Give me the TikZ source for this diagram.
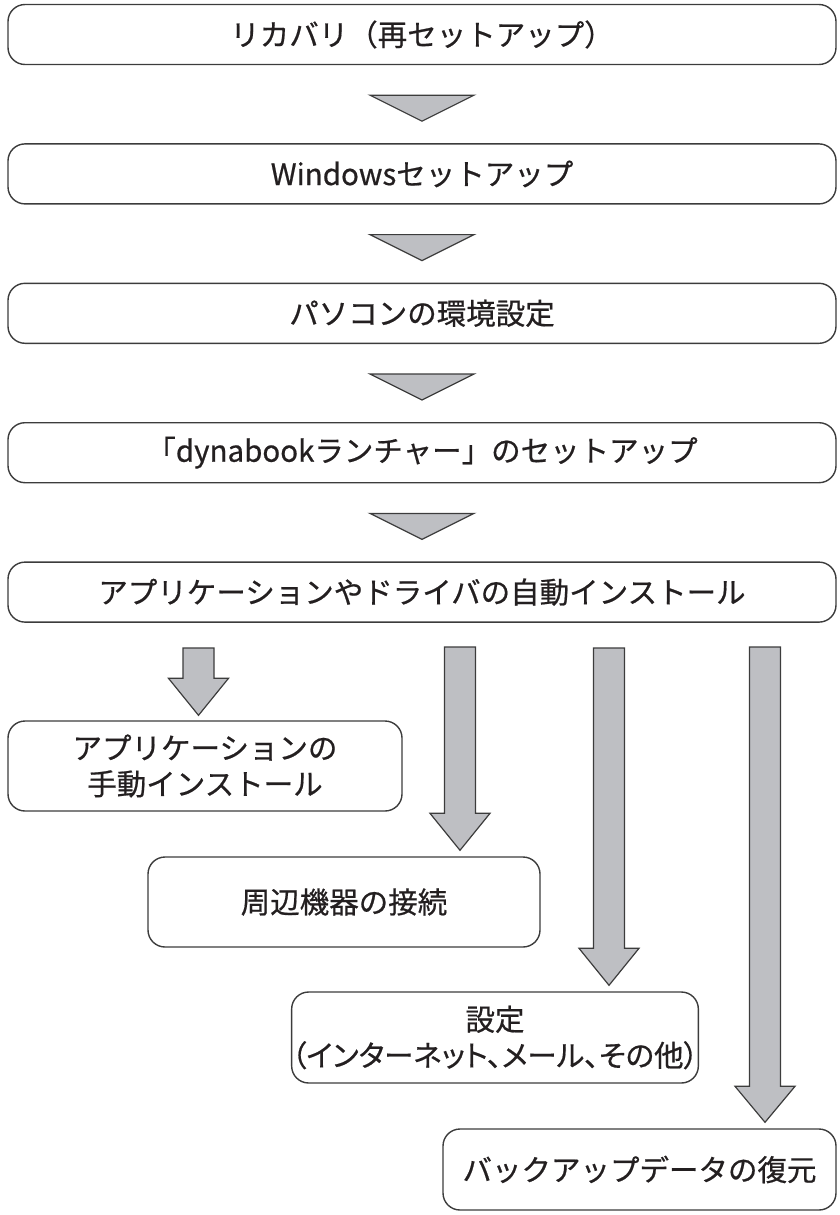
\documentclass[tikz,border=0pt]{standalone}
\usepackage{fontspec}
\setmainfont[FakeBold=0.6,AutoFakeBold=0.6]{Noto Sans CJK JP}
\newfontfamily\paltfont[RawFeature=+palt,FakeBold=0.6]{Noto Sans CJK JP}
\usepackage{xcolor}
\usepackage{tikz}
\usetikzlibrary{positioning, calc}
\definecolor{arrowGray}{RGB}{190,191,195}
\definecolor{lineGray}{RGB}{60,60,60}
\definecolor{textBlack}{RGB}{35,31,32}

\begin{document}
\begin{tikzpicture}[x=1pt, y=1pt,
  node distance=78pt,
  box/.style={rectangle, draw=lineGray, rounded corners=17pt, minimum width=828pt,
              minimum height=60pt, align=center, font=\fontsize{29.5}{36}\selectfont,
              text=textBlack, line width=1.4pt, inner sep=0pt},
  subbox/.style={box, minimum width=394pt, minimum height=90pt},
  tri/.style={draw=lineGray, fill=arrowGray, line width=1.2pt, line join=miter}]
  \useasboundingbox (0,0) rectangle (839,-1215);

  \node[box] (RECOV) at (422,-34.5) {リカバリ（再セットアップ）};
  \node[box, below=of RECOV] (WIN) {Windowsセットアップ};
  \node[box, below=of WIN] (ENV) {パソコンの環境設定};
  \node[box, below=of ENV] (LAUNCH) {「dynabookランチャー」のセットアップ};
  \node[box, below=of LAUNCH] (AUTO) {アプリケーションやドライバの自動インストール};

  \node[subbox] (MANUAL) at (205,-766) {アプリケーションの\\手動インストール};
  \node[subbox, minimum width=392pt] (PERIPH) at (344,-902) {周辺機器の接続};
  \node[subbox, minimum height=91pt] (NET) at (495,-1037.5) {設定\\{\paltfont （インターネット、メール、その他）}};
  \node[subbox, minimum width=393pt, minimum height=81pt] (RESTORE) at (639.5,-1169.5) {バックアップデータの復元};

  % triangles between the main steps
  \draw[tri] ($(RECOV.south)+(-52,-30)$) -- ($(RECOV.south)+(52,-30)$) -- ($(WIN.north)+(0,22)$) -- cycle;
  \draw[tri] ($(WIN.south)+(-52,-30)$) -- ($(WIN.south)+(52,-30)$) -- ($(ENV.north)+(0,22)$) -- cycle;
  \draw[tri] ($(ENV.south)+(-52,-30)$) -- ($(ENV.south)+(52,-30)$) -- ($(LAUNCH.north)+(0,22)$) -- cycle;
  \draw[tri] ($(LAUNCH.south)+(-52,-30)$) -- ($(LAUNCH.south)+(52,-30)$) -- ($(AUTO.north)+(0,22)$) -- cycle;

  % block arrows to the branches
  \coordinate (t1) at (198.5,-648);
  \coordinate (t2) at (460,-647);
  \coordinate (t3) at (609,-648);
  \coordinate (t4) at (765,-647);

  \draw[tri] let \p1=(t1), \p2=(MANUAL.north) in
    (\x1-15.5pt,\y1) -- (\x1+15.5pt,\y1) -- (\x1+15.5pt,\y2+42pt) -- (\x1+30pt,\y2+42pt)
    -- (\x1,\y2+5pt) -- (\x1-30pt,\y2+42pt) -- (\x1-15.5pt,\y2+42pt) -- cycle;
  \draw[tri] let \p1=(t2), \p2=(PERIPH.north) in
    (\x1-15.5pt,\y1) -- (\x1+15.5pt,\y1) -- (\x1+15.5pt,\y2+43pt) -- (\x1+30pt,\y2+43pt)
    -- (\x1,\y2+6pt) -- (\x1-30pt,\y2+43pt) -- (\x1-15.5pt,\y2+43pt) -- cycle;
  \draw[tri] let \p1=(t3), \p2=(NET.north) in
    (\x1-15.5pt,\y1) -- (\x1+15.5pt,\y1) -- (\x1+15.5pt,\y2+43pt) -- (\x1+30pt,\y2+43pt)
    -- (\x1,\y2+6pt) -- (\x1-30pt,\y2+43pt) -- (\x1-15.5pt,\y2+43pt) -- cycle;
  \draw[tri] let \p1=(t4), \p2=(RESTORE.north) in
    (\x1-15.5pt,\y1) -- (\x1+15.5pt,\y1) -- (\x1+15.5pt,\y2+42pt) -- (\x1+30pt,\y2+42pt)
    -- (\x1,\y2+6pt) -- (\x1-30pt,\y2+42pt) -- (\x1-15.5pt,\y2+42pt) -- cycle;
\end{tikzpicture}
\end{document}
